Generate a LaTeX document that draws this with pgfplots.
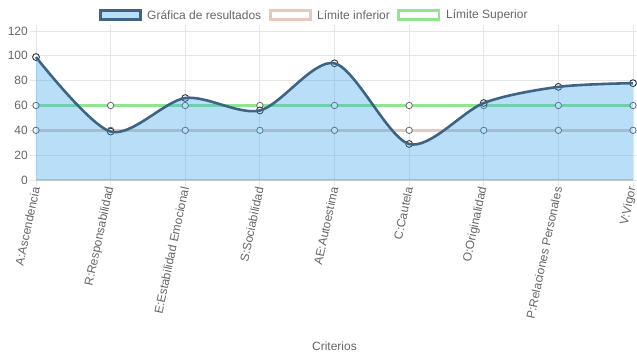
\documentclass[border=0pt]{standalone}
\usepackage{fontspec}
\setmainfont{Liberation Sans}
\usepackage{pgfplots}
\pgfplotsset{compat=1.18}
\definecolor{txt}{RGB}{102,102,102}
\definecolor{gridc}{RGB}{229,229,229}
\definecolor{zeroc}{RGB}{204,204,204}
\definecolor{fillc}{RGB}{54,162,235}
\definecolor{linec}{RGB}{62,100,133}
\definecolor{lowc}{RGB}{231,200,188}
\definecolor{upc}{RGB}{144,230,144}
\newcommand{\lf}{\fontsize{12bp}{14bp}\selectfont}
\pgfplotsset{
  layers/mylayers/.define layer set={axis background,axis grid,axis ticks,axis lines,axis tick labels,main,fillayer,curvelayer,marklayer,axis descriptions,axis foreground}{},
}
\begin{document}
\lf
\begin{tikzpicture}
\begin{axis}[
 set layers=mylayers,
 scale only axis, width=597bp, height=149bp,
 xmin=0, xmax=8, ymin=0, ymax=120,
 xtick={0,...,8},
 xticklabels={A:Ascendencia, R:Responsabilidad, E:Estabilidad Emocional, S:Sociabilidad, AE:Autoestima, C:Cautela, O:Originalidad, P:Relaciones Personales, V:Vigor},
 ytick={0,20,...,120},
 grid=major, grid style={gridc, line width=0.8bp},
 axis line style={draw=none},
 tick align=outside, major tick length=6bp, tick style={gridc, line width=0.8bp},
 xticklabel style={rotate=78, anchor=east, text=txt, font=\lf, inner sep=1bp},
 yticklabel style={text=txt, font=\lf, inner sep=2bp},
 xlabel=Criterios,
 xlabel style={at={(axis description cs:0.5,0)}, anchor=center, yshift=-166bp, text=txt, font=\lf},
 /pgf/number format/assume math mode=true,
 clip=false,
]
\draw[zeroc, line width=1.5bp] (axis cs:0,0) -- (axis cs:8,0);
% limits
\addplot[lowc, line width=2.5bp, mark=*, mark size=3.2bp, mark options={fill=white, draw=gray!80!black, line width=0.8bp}] coordinates {(0,40)(1,40)(2,40)(3,40)(4,40)(5,40)(6,40)(7,40)(8,40)};
\addplot[upc, line width=2.5bp, mark=*, mark size=3.2bp, mark options={fill=white, draw=gray!80!black, line width=0.8bp}] coordinates {(0,60)(1,60)(2,60)(3,60)(4,60)(5,60)(6,60)(7,60)(8,60)};
% fill
\addplot[on layer=fillayer, draw=none, fill=fillc, fill opacity=0.35, smooth, tension=0.5] coordinates {(0,99)(1,39)(2,66)(3,56)(4,94)(5,29)(6,62)(7,75)(8,78)} \closedcycle;
% curve
\addplot[on layer=curvelayer, linec, line width=2.6bp, smooth, tension=0.5] coordinates {(0,99)(1,39)(2,66)(3,56)(4,94)(5,29)(6,62)(7,75)(8,78)};
\addplot[on layer=marklayer, only marks, mark=*, mark size=3.4bp, mark options={fill=white, draw=black!80, line width=0.9bp}] coordinates {(0,99)(1,39)(2,66)(3,56)(4,94)(5,29)(6,62)(7,75)(8,78)};
\end{axis}
% legend
\draw[linec, line width=2.6bp, fill=fillc!35] (64.5bp,160.5bp) rectangle (104.5bp,169.5bp);
\node[anchor=west, text=txt, inner sep=0pt] at (111bp,165bp) {Gráfica de resultados};
\draw[lowc, line width=2.6bp, fill=white] (234.5bp,160.5bp) rectangle (274.5bp,169.5bp);
\node[anchor=west, text=txt, inner sep=0pt] at (281bp,165bp) {Límite inferior};
\draw[upc, line width=2.6bp, fill=white] (362.5bp,160.5bp) rectangle (403bp,169.5bp);
\node[anchor=west, text=txt, inner sep=0pt] at (410bp,165bp) {Límite Superior};
\pgfresetboundingbox
\path[use as bounding box] (-36bp,-179bp) rectangle (601bp,180bp);
\end{tikzpicture}
\end{document}
